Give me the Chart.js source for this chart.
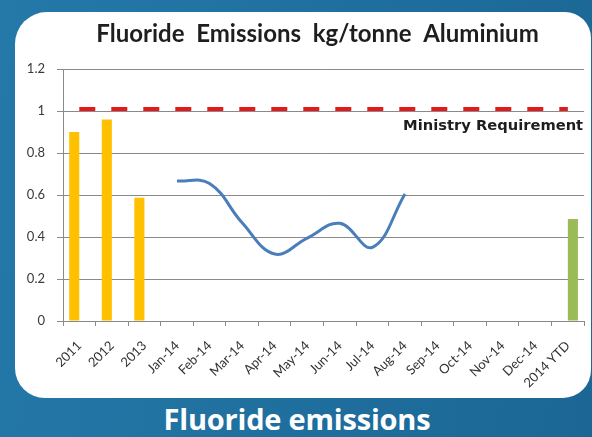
<!DOCTYPE html>
<html lang="en">
<head>
  <meta charset="UTF-8">
  <title>Fluoride Emissions</title>
  <script src="https://cdn.jsdelivr.net/npm/chart.js"></script>
  <style>
    html, body { margin: 0; padding: 0; }
    body {
      width: 592px; height: 437px; overflow: hidden; position: relative;
      background: linear-gradient(100deg, #2479a8 0%, #1f6f9e 55%, #1b6694 100%);
      font-family: "Open Sans", sans-serif;
    }
    .panel {
      position: absolute; left: 15px; top: 12px; width: 576px; height: 386px;
      background: #fff; border-radius: 32px 26px 28px 30px; overflow: hidden;
    }
    .panel canvas { position: absolute; left: 0; top: 0; }
    .caption {
      position: absolute; left: 0; width: 594px; top: 399px; text-align: center;
      color: #fff; font: bold 29px/40px "Open Sans", sans-serif; letter-spacing: -0.2px;
    }
  </style>
</head>
<body>
  <div class="panel"><canvas id="chart" width="576" height="386"></canvas></div>
  <div class="caption">Fluoride emissions</div>

  <script>
    // data
    const categories = ['2011', '2012', '2013', 'Jan-14', 'Feb-14', 'Mar-14', 'Apr-14', 'May-14',
      'Jun-14', 'Jul-14', 'Aug-14', 'Sep-14', 'Oct-14', 'Nov-14', 'Dec-14', '2014 YTD'];
    const yearlyValues = [0.90, 0.96, 0.587, null, null, null, null, null,
      null, null, null, null, null, null, null, null];
    const ytdValues = [null, null, null, null, null, null, null, null,
      null, null, null, null, null, null, null, 0.486];
    const monthlyValues = [null, null, null, 0.667, 0.655, 0.468, 0.319, 0.395,
      0.465, 0.351, 0.605, null, null, null, null, null];
    const requirement = 1.01;
    const requirementLine = categories.map(() => requirement);
    const yTicks = [0, 0.2, 0.4, 0.6, 0.8, 1, 1.2];

    const gray = '#8a8a8a';
    const chartTitle = 'Fluoride  Emissions  kg/tonne  Aluminium';

    // title centred over the plot area, and the "Ministry Requirement" note
    const extras = {
      id: 'extras',
      afterDraw(chart) {
        const { ctx, chartArea, scales } = chart;
        ctx.save();
        ctx.fillStyle = '#1e1e1e';
        ctx.textBaseline = 'middle';
        ctx.textAlign = 'center';
        ctx.font = 'bold 24px Lato, sans-serif';
        ctx.fillText(chartTitle, (chartArea.left + chartArea.right) / 2 - 6, 22);
        ctx.font = 'bold 14.7px "DejaVu Sans", sans-serif';
        ctx.textAlign = 'right';
        ctx.fillText('Ministry Requirement', chartArea.right - 1, scales.y.getPixelForValue(1) + 15);
        ctx.restore();
      }
    };

    new Chart('chart', {
      type: 'bar',
      data: {
        labels: categories,
        datasets: [
          { type: 'line', label: 'Ministry Requirement', data: requirementLine, borderColor: '#e3191c',
            borderWidth: 4, borderDash: [16, 16], pointRadius: 0, fill: false, order: 0 },
          { type: 'line', label: '2014', data: monthlyValues, borderColor: '#4a7ebb', borderWidth: 3,
            pointRadius: 0, tension: 0.4, spanGaps: false, fill: false, order: 1 },
          { label: 'Year', data: yearlyValues, backgroundColor: '#ffc000', order: 2 },
          { label: 'YTD', data: ytdValues, backgroundColor: '#9bbb59', order: 2 }
        ]
      },
      options: {
        responsive: false,
        animation: false,
        datasets: { bar: { categoryPercentage: 0.62, barPercentage: 1 } },
        layout: { padding: { left: 0, right: 4, top: 57, bottom: 0 } },
        plugins: {
          legend: { display: false },
          tooltip: { enabled: false },
          title: { display: false }
        },
        scales: {
          x: {
            grid: { display: true, drawOnChartArea: false, drawTicks: true, tickLength: 5, color: gray, offset: true },
            border: { color: gray },
            ticks: { color: '#333', font: { family: 'Lato', size: 13 }, minRotation: 45, maxRotation: 45, autoSkip: false, padding: 12 },
            afterFit: s => { s.height = 77; }
          },
          y: {
            min: 0, max: 1.2,
            afterBuildTicks: s => { s.ticks = yTicks.map(v => ({ value: v })); },
            grid: { color: gray, tickLength: 6 },
            border: { color: gray },
            ticks: { color: '#3a3a3a', font: { family: 'Lato', size: 13 }, padding: 12,
              callback: v => String(v) },
            afterFit: s => { s.width = 48; }
          }
        }
      },
      plugins: [extras]
    });
  </script>
</body>
</html>
